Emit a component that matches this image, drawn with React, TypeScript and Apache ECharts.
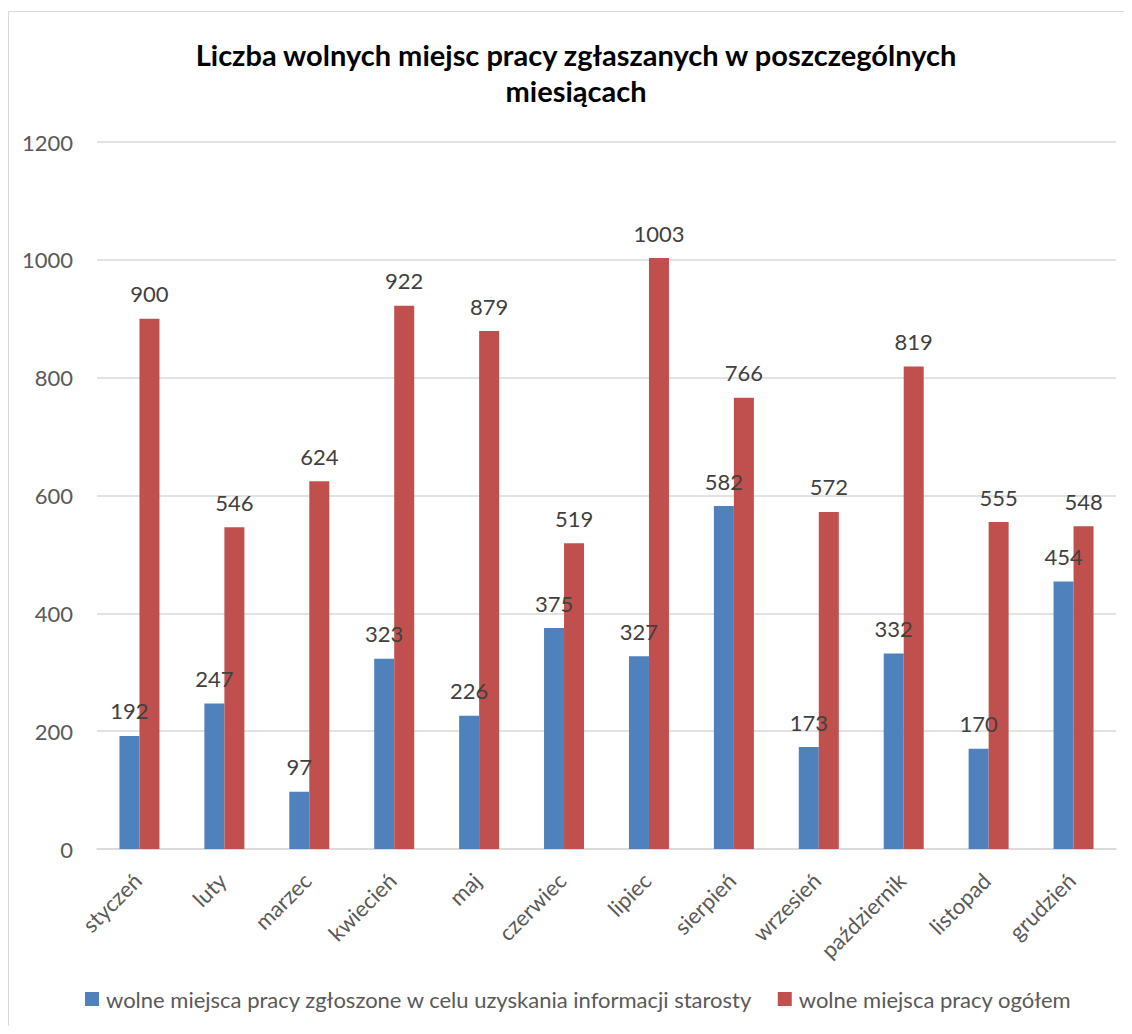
import React, { useEffect, useRef } from "react";
import * as echarts from "echarts";

const titleText = "Liczba wolnych miejsc pracy zgłaszanych w poszczególnych\nmiesiącach";
const categories = ["styczeń", "luty", "marzec", "kwiecień", "maj", "czerwiec", "lipiec", "sierpień", "wrzesień", "październik", "listopad", "grudzień"];
const seriesNames = ["wolne miejsca pracy zgłoszone w celu uzyskania informacji starosty", "wolne miejsca pracy ogółem"];
const starostaValues = [192, 247, 97, 323, 226, 375, 327, 582, 173, 332, 170, 454];
const totalValues = [900, 546, 624, 922, 879, 519, 1003, 766, 572, 819, 555, 548];
const yTicks = { min: 0, max: 1200, interval: 200 };

const FONT = "Lato, 'Liberation Sans', sans-serif";
const FS = 22;

export default function App() {
  const ref = useRef<HTMLDivElement>(null);
  useEffect(() => {
    if (!ref.current) return;
    const chart = echarts.init(ref.current, undefined, { renderer: "svg" });
    const labelStyle = {
      show: true,
      position: "top" as const,
      distance: 14,
      color: "#404040",
      fontSize: FS,
      fontFamily: FONT,
    };
    chart.setOption({
      animation: false,
      backgroundColor: "#ffffff",
      textStyle: { fontFamily: FONT },
      title: {
        text: titleText,
        left: 568,
        top: 28,
        textAlign: "center",
        padding: 0,
        textStyle: {
          fontSize: 29,
          fontWeight: "bold",
          color: "#000000",
          lineHeight: 36,
          fontFamily: FONT,
        },
      },
      graphic: [
        {
          type: "rect",
          shape: { x: 0.5, y: 3.5, width: 1300, height: 1300 },
          style: { fill: "none", stroke: "#d9d9d9", lineWidth: 1 },
          silent: true,
        },
      ],
      legend: {
        bottom: 11,
        left: 72,
        itemWidth: 14,
        itemHeight: 14,
        itemGap: 25,
        icon: "rect",
        textStyle: { fontSize: FS, color: "#595959", fontFamily: FONT, padding: [0, 0, 0, 2] },
        data: seriesNames,
      },
      grid: { left: 89, right: 8, top: 134, bottom: 177, containLabel: false },
      xAxis: {
        type: "category",
        data: categories,
        axisLine: { lineStyle: { color: "#d9d9d9", width: 1.5 } },
        axisTick: { show: false },
        axisLabel: {
          rotate: 45,
          margin: 10,
          fontSize: FS,
          color: "#595959",
          fontFamily: FONT,
          interval: 0,
          verticalAlign: "top",
          padding: [0, 14, 0, 0],
        },
      },
      yAxis: {
        type: "value",
        min: yTicks.min,
        max: yTicks.max,
        interval: yTicks.interval,
        axisLine: { show: false },
        axisTick: { show: false },
        splitLine: { lineStyle: { color: "#d9d9d9", width: 1.5 } },
        axisLabel: {
          margin: 24,
          fontSize: FS,
          color: "#595959",
          fontFamily: FONT,
          formatter: (v: number) => String(v),
        },
      },
      series: [
        {
          name: seriesNames[0],
          type: "bar",
          data: starostaValues,
          barWidth: 20,
          barGap: "0%",
          itemStyle: { color: "#4F81BD" },
          label: labelStyle,
        },
        {
          name: seriesNames[1],
          type: "bar",
          data: totalValues,
          barWidth: 20,
          barGap: "0%",
          itemStyle: { color: "#C0504D" },
          label: labelStyle,
        },
      ],
    });
    return () => chart.dispose();
  }, []);
  return <div ref={ref} style={{ width: 1116, height: 1018 }} />;
}
